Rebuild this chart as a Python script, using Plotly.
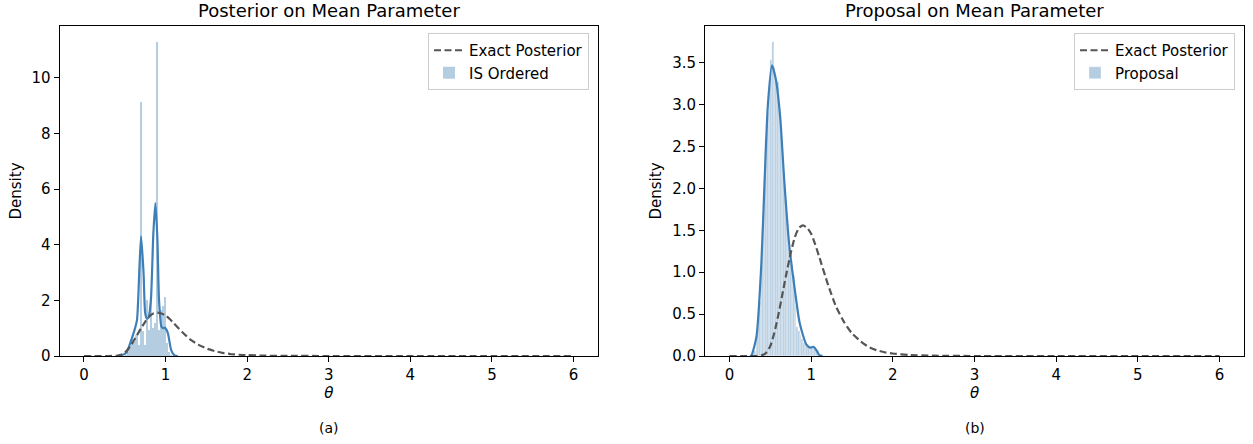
import plotly.graph_objects as go
from plotly.subplots import make_subplots

# ---------------- data ----------------
# Exact posterior (dashed curve), sampled points
post_theta = [0.0, 0.3, 0.4, 0.45, 0.5, 0.55, 0.6, 0.65, 0.7, 0.75, 0.8, 0.85, 0.9,
              0.95, 1.0, 1.05, 1.1, 1.2, 1.3, 1.4, 1.5, 1.6, 1.7, 1.8, 1.9, 2.0,
              2.2, 2.5, 3.0, 4.0, 5.0, 6.0]
post_density = [0.0, 0.0, 0.01, 0.04, 0.12, 0.28, 0.50, 0.75, 1.00, 1.23, 1.42, 1.53, 1.56,
                1.53, 1.46, 1.33, 1.18, 0.87, 0.60, 0.41, 0.27, 0.18, 0.11, 0.07, 0.045, 0.03,
                0.012, 0.004, 0.0, 0.0, 0.0, 0.0]

# (a) IS Ordered histogram (bin centres, densities) and its KDE
is_bins = [0.5125, 0.5375, 0.5625, 0.5875, 0.6125, 0.6375, 0.6625, 0.6875, 0.7125,
           0.7375, 0.7625, 0.7875, 0.8125, 0.8375, 0.8625, 0.8875, 0.9125, 0.9375,
           0.9625, 0.9875, 1.0125, 1.0375, 1.0625]
is_hist = [0.05, 0.15, 0.35, 0.6, 0.5, 0.75, 0.4, 9.15, 0.9,
           0.4, 2.0, 0.95, 1.95, 1.0, 1.2, 11.3, 0.95, 1.65,
           1.8, 2.13, 0.45, 0.15, 0.05]
is_kde_theta = [0.40, 0.45, 0.52, 0.58, 0.62, 0.65, 0.68, 0.70, 0.73, 0.75, 0.77, 0.79,
                0.82, 0.85, 0.875, 0.90, 0.92, 0.95, 0.97, 0.99, 1.01, 1.03, 1.07, 1.11, 1.15]
is_kde_density = [0.0, 0.02, 0.12, 0.58, 0.94, 1.3, 3.2, 4.3, 3.0, 1.55, 1.35, 1.37,
                  2.0, 4.4, 5.5, 4.2, 2.0, 1.05, 1.0, 1.02, 0.95, 0.8, 0.2, 0.02, 0.0]

# (b) Proposal histogram and its KDE
prop_bins = [0.29, 0.31, 0.33, 0.35, 0.37, 0.39, 0.41, 0.43, 0.45, 0.47, 0.49, 0.51,
             0.53, 0.55, 0.57, 0.59, 0.61, 0.63, 0.65, 0.67, 0.69, 0.71, 0.73, 0.75,
             0.77, 0.79, 0.81, 0.83, 0.85, 0.87, 0.89, 0.91, 0.93, 0.95, 0.97, 0.99,
             1.01, 1.03, 1.05, 1.07, 1.09, 1.11]
prop_hist = [0.02, 0.06, 0.15, 0.35, 0.65, 1.05, 1.55, 2.05, 2.6, 2.9, 3.3, 3.53,
             3.75, 3.45, 3.28, 3.27, 3.0, 2.75, 2.4, 2.1, 1.8, 1.55, 1.3, 1.1,
             1.0, 0.95, 0.6, 0.35, 0.3, 0.25, 0.2, 0.15, 0.13, 0.12, 0.1, 0.11,
             0.12, 0.11, 0.1, 0.07, 0.03, 0.01]
prop_kde_theta = [0.25, 0.27, 0.33, 0.39, 0.43, 0.47, 0.52, 0.57, 0.62, 0.67, 0.73, 0.80,
                  0.86, 0.94, 0.99, 1.03, 1.07, 1.10, 1.14]
prop_kde_density = [0.0, 0.01, 0.23, 1.1, 2.1, 3.0, 3.47, 3.29, 2.86, 2.1, 1.34, 0.79,
                    0.39, 0.14, 0.10, 0.11, 0.06, 0.01, 0.0]

x_ticks = [0, 1, 2, 3, 4, 5, 6]

# ---------------- styling ----------------
FONT = "DejaVu Sans"
HIST_COLOR = "rgba(70,130,180,0.4)"
KDE_COLOR = "#3f7fb8"
POST_COLOR = "#555555"
DASH = "7px,3.5px"
W, H = 1253, 444

def px_x(p):
    return p / W

def px_y(p):
    return (H - p) / H

fig = make_subplots(rows=1, cols=2, horizontal_spacing=0.05)

# Left panel
fig.add_trace(go.Bar(x=is_bins, y=is_hist, width=0.025, name="IS Ordered",
                     marker=dict(color=HIST_COLOR, line=dict(width=0)),
                     legend="legend"), row=1, col=1)
fig.add_trace(go.Scatter(x=is_kde_theta, y=is_kde_density, mode="lines",
                         line=dict(color=KDE_COLOR, width=2.2, shape="spline", smoothing=0.6),
                         showlegend=False, hoverinfo="skip"), row=1, col=1)
fig.add_trace(go.Scatter(x=post_theta, y=post_density, mode="lines", name="Exact Posterior",
                         line=dict(color=POST_COLOR, width=2.2, dash=DASH, shape="spline",
                                   smoothing=0.5),
                         legend="legend"), row=1, col=1)

# Right panel
fig.add_trace(go.Bar(x=prop_bins, y=prop_hist, width=0.02, name="Proposal",
                     marker=dict(color=HIST_COLOR, line=dict(width=0.3, color="white")),
                     legend="legend2"), row=1, col=2)
fig.add_trace(go.Scatter(x=prop_kde_theta, y=prop_kde_density, mode="lines",
                         line=dict(color=KDE_COLOR, width=2.2, shape="spline", smoothing=0.6),
                         showlegend=False, hoverinfo="skip"), row=1, col=2)
fig.add_trace(go.Scatter(x=post_theta, y=post_density, mode="lines", name="Exact Posterior",
                         line=dict(color=POST_COLOR, width=2.2, dash=DASH, shape="spline",
                                   smoothing=0.5),
                         legend="legend2"), row=1, col=2)

axis_common = dict(showline=True, linecolor="black", linewidth=1, mirror=True,
                   ticks="outside", ticklen=5, tickwidth=1, tickcolor="black",
                   showgrid=False, zeroline=False, automargin=False,
                   tickfont=dict(family=FONT, size=15, color="black"))

y_dom = [px_y(356), px_y(26)]
fig.update_xaxes(**axis_common, range=[-0.3, 6.3], tickvals=x_ticks,
                 title=dict(text="<i>θ</i>", font=dict(family=FONT, size=15, color="black"),
                            standoff=2))
fig.update_xaxes(domain=[px_x(59.5), px_x(598)], row=1, col=1)
fig.update_xaxes(domain=[px_x(705), px_x(1244)], row=1, col=2)
fig.update_yaxes(**axis_common, domain=y_dom,
                 title=dict(text="Density", font=dict(family=FONT, size=15, color="black"),
                            standoff=6))
fig.update_yaxes(range=[0, 11.87], tickvals=[0, 2, 4, 6, 8, 10], row=1, col=1)
fig.update_yaxes(range=[0, 3.94], tickvals=[0, 0.5, 1, 1.5, 2, 2.5, 3, 3.5],
                 tickformat=".1f", row=1, col=2)

legend_common = dict(bgcolor="rgba(255,255,255,0.85)", bordercolor="#cccccc", borderwidth=1,
                     font=dict(family=FONT, size=15, color="black"), traceorder="reversed",
                     xanchor="right", yanchor="top", itemwidth=30, tracegroupgap=0)
fig.update_layout(
    width=W, height=H, margin=dict(l=0, r=0, t=0, b=0),
    plot_bgcolor="white", paper_bgcolor="white",
    bargap=0, barmode="overlay", showlegend=True,
    font=dict(family=FONT, color="black"),
    legend=dict(**legend_common, x=px_x(589), y=px_y(33)),
    legend2=dict(**legend_common, x=px_x(1235), y=px_y(33)),
)

titles = [("Posterior on Mean Parameter", (59.5 + 598) / 2),
          ("Proposal on Mean Parameter", (705 + 1244) / 2)]
for text, cx in titles:
    fig.add_annotation(text=text, x=px_x(cx), y=px_y(11), xref="paper", yref="paper",
                       xanchor="center", yanchor="middle", showarrow=False,
                       font=dict(family=FONT, size=18, color="black"))
for text, cx in [("(a)", (59.5 + 598) / 2), ("(b)", (705 + 1244) / 2)]:
    fig.add_annotation(text=text, x=px_x(cx), y=px_y(428), xref="paper", yref="paper",
                       xanchor="center", yanchor="middle", showarrow=False,
                       font=dict(family=FONT, size=14, color="black"))

fig.write_html("out.html",
               config={"displayModeBar": False},
               post_script="document.body.style.margin='0px';"
                           "document.body.style.overflow='hidden';")
